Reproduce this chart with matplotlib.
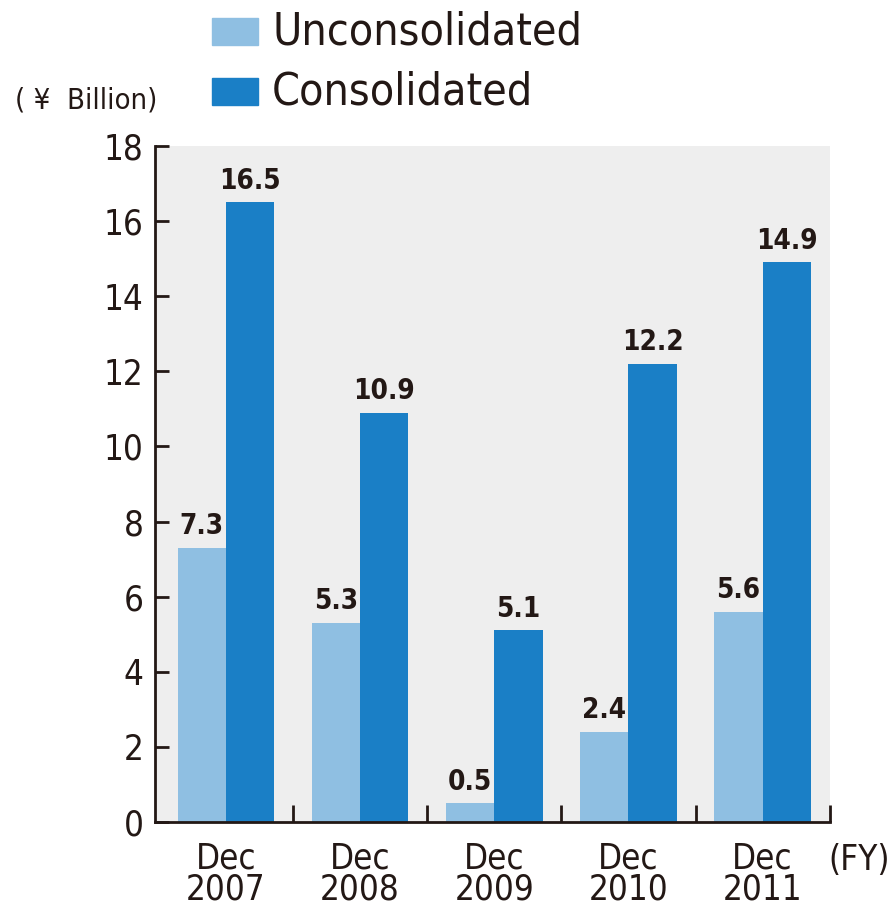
import matplotlib
matplotlib.use("Agg")
import matplotlib.pyplot as plt
import numpy as np
from matplotlib.patches import Rectangle

plt.rcParams['font.family'] = ['DejaVu Sans']
plt.rcParams['font.stretch'] = 'condensed'

#data
years = ["Dec\n2007", "Dec\n2008", "Dec\n2009", "Dec\n2010", "Dec\n2011"]
unconsolidated = [7.3, 5.3, 0.5, 2.4, 5.6]
consolidated = [16.5, 10.9, 5.1, 12.2, 14.9]

light = "#8fbfe2"
dark = "#1a7fc6"
txt = "#231815"

fig = plt.figure(figsize=(8.95, 9.09), dpi=100)
ax = fig.add_axes([0.173, 0.0957, 0.754, 0.7437])
ax.set_facecolor("#eeeeee")

x = np.arange(len(years))
w = 0.36
ax.bar(x - w/2, unconsolidated, w, color=light, zorder=2)
ax.bar(x + w/2, consolidated, w, color=dark, zorder=2)

for xi, v in zip(x - w/2, unconsolidated):
    ax.text(xi, v + 0.2, f"{v}", ha="center", va="bottom", fontsize=20,
            fontweight="bold", color=txt)
for xi, v in zip(x + w/2, consolidated):
    ax.text(xi, v + 0.2, f"{v}", ha="center", va="bottom", fontsize=20,
            fontweight="bold", color=txt)

ax.set_xlim(-0.53, 4.5)
ax.set_ylim(0, 18)
ax.set_yticks(range(0, 19, 2))
ax.tick_params(axis="y", direction="in", length=10, width=2, colors=txt,
               labelsize=25, pad=8)
ax.set_xticks(x)
ax.set_xticklabels(years, fontsize=25, color=txt, linespacing=0.9)
ax.tick_params(axis="x", length=0, pad=14)
# group separator ticks on x axis
ax.set_xticks(np.arange(0.5, 5, 1), minor=True)
ax.tick_params(axis="x", which="minor", direction="in", length=12, width=2,
               colors=txt)

for s in ["top", "right"]:
    ax.spines[s].set_visible(False)
for s in ["left", "bottom"]:
    ax.spines[s].set_linewidth(2)
    ax.spines[s].set_color(txt)

# legend
fig.patches.append(Rectangle((212/895, 1-45/909), 46/895, 27/909,
                             transform=fig.transFigure, color=light))
fig.patches.append(Rectangle((212/895, 1-105/909), 46/895, 27/909,
                             transform=fig.transFigure, color=dark))
fig.text(272/895, 1-32/909, "Unconsolidated", fontsize=32, color=txt, va="center")
fig.text(272/895, 1-92/909, "Consolidated", fontsize=32, color=txt, va="center")

fig.text(15/895, 1-100/909, "( \u00a5  Billion)", fontsize=21, color=txt,
         va="center")
fig.text(828/895, 1-860/909, "(FY)", fontsize=25, color=txt, va="center")

fig.savefig("out.png", dpi=100, facecolor="white")
